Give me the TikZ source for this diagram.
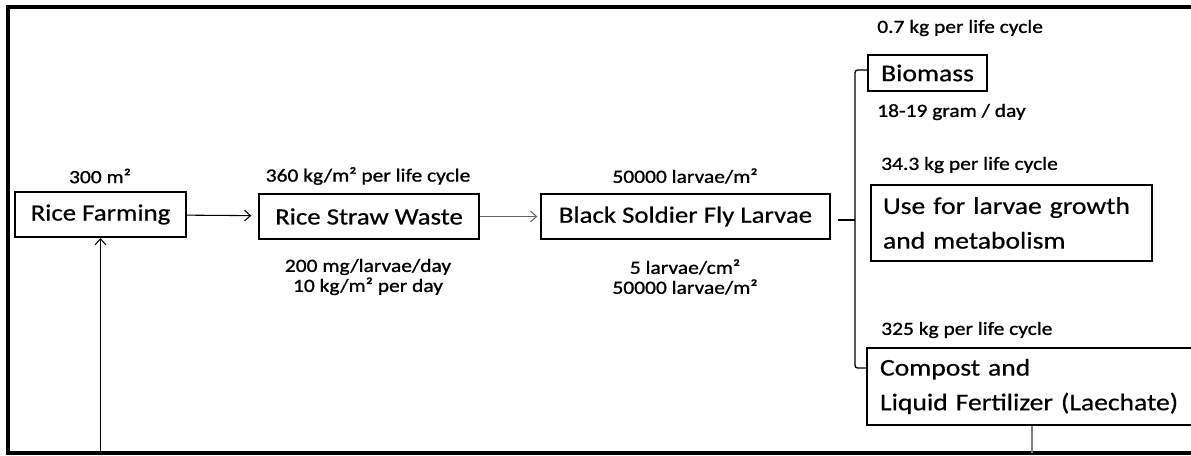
\documentclass[tikz,border=0pt]{standalone}
\usepackage{fontspec}
\setmainfont[FakeStretch=1.15,FakeBold=0.6]{Carlito}
\newfontfamily\lblfont[FakeStretch=1.15,FakeBold=1.1]{Carlito}
\usetikzlibrary{arrows.meta}

\begin{document}
\begin{tikzpicture}[x=0.75pt,y=-0.75pt,
    box/.style={draw,line width=1.5pt,inner sep=0pt,font=\fontsize{17.5}{26}\selectfont},
    dims/.style 2 args={minimum width=#1*0.75pt,minimum height=#2*0.75pt},
    lbl/.style={inner sep=0pt,font=\lblfont\fontsize{14}{15}\selectfont},
    flow/.style={-{Straight Barb[length=4.5pt,width=8pt]},line width=0.8pt}]
  \useasboundingbox (0,0) rectangle (1191,455);
  % frame
  \draw[line width=2.6pt] (1200,7) -- (8,7) -- (8,453) -- (1200,453);

  % main chain
  \node[box,dims={171}{45}] (farm) at (100.5,214.5) {Rice Farming};
  \node[box,dims={220}{45}] (straw) at (369,216.5) {Rice Straw Waste};
  \node[box,dims={289}{45}] (bsf) at (685.5,216.5) {Black Soldier Fly Larvae};

  \node[lbl] (l300) at (100,176) {300 m²};
  \node[lbl] (l360) at (368,176) {360 kg/m² per life cycle};
  \node[lbl,align=center] (lfeed) at (368,277) {200 mg/larvae/day\\10 kg/m² per day};
  \node[lbl] (ldens) at (685,176) {50000 larvae/m²};
  \node[lbl,align=center] (lcm) at (685,277) {5 larvae/cm²\\50000 larvae/m²};

  % outputs
  \node[box,dims={119}{36},font=\fontsize{18}{26}\selectfont] (bio) at (927.5,73) {Biomass};
  \node[box,dims={281}{76},inner xsep=9pt,text width=257*0.75pt,align=left,font=\fontsize{18}{26}\selectfont] (use) at (1011.5,223) {Use for larvae growth\\and metabolism};
  \node[box,dims={333}{77},inner xsep=9.75pt,text width=307*0.75pt,align=left,font=\fontsize{18}{26}\selectfont] (comp) at (1033.5,386.5) {Compost and\\Liquid Fertilizer (Laechate)};

  \node[lbl,anchor=west] (lbio) at (877,28) {0.7 kg per life cycle};
  \node[lbl,anchor=west] (lday) at (877,112) {18-19 gram / day};
  \node[lbl,anchor=west] (luse) at (881,165) {34.3 kg per life cycle};
  \node[lbl,anchor=west] (lcomp) at (881,330) {325 kg per life cycle};

  % connectors
  \draw[flow,shorten >=5pt] (farm) -- (straw);
  \draw[flow,gray!80!black,shorten >=2pt] (straw) -- (bsf);

  \coordinate (brT) at (855,70);
  \coordinate (brB) at (855,368);
  \coordinate (tk) at (838,220);
  \draw[line width=1pt,rounded corners=2pt] (bio.west |- brT) -- (brT) -- (brB) -- (comp.west |- brB);
  \draw[line width=0.8pt] (tk) -- (tk -| brT);

  % feedback to the farm
  \coordinate (fbR) at (1032,453);
  \coordinate (fbL) at (100.5,453);
  \draw[line width=1pt,gray] (comp.south -| fbR) -- (fbR);
  \draw[flow] (fbL) -- (farm.south);
\end{tikzpicture}
\end{document}
